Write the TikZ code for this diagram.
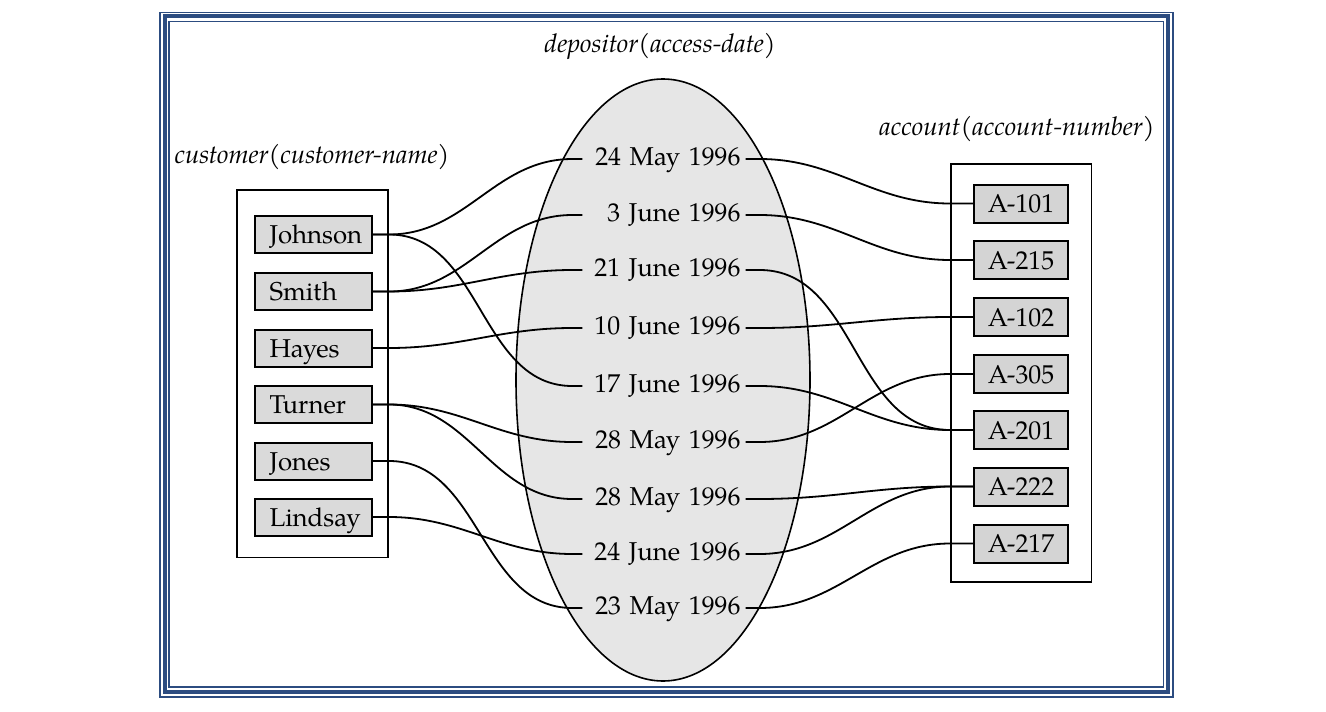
\documentclass[tikz,border=0pt]{standalone}
\usepackage{fontspec}
\setmainfont{TeX Gyre Pagella}
\definecolor{frameblue}{RGB}{44,76,128}
\definecolor{boxgray}{RGB}{218,218,218}
\definecolor{accgray}{RGB}{212,212,212}
\definecolor{ellgray}{RGB}{230,230,230}
\newcommand{\bigtxt}{\fontsize{25.8}{30}\selectfont}
\tikzset{
  cbox/.style={draw, line width=2pt, fill=boxgray, minimum width=117pt, minimum height=37pt,
    text width=88pt, align=left, inner xsep=0pt, inner ysep=0pt,
    text height=18pt, text depth=0pt, font=\bigtxt},
  abox/.style={draw, line width=2pt, fill=accgray, minimum width=94pt, minimum height=38pt,
    inner sep=0pt, text height=18pt, text depth=0pt, font=\bigtxt},
  dnode/.style={text width=153pt, align=right, inner xsep=5pt, inner ysep=0pt,
    text height=18pt, text depth=6pt, font=\bigtxt},
  ttl/.style={font=\bigtxt\itshape, inner sep=0pt},
  outerbox/.style={draw, line width=1.6pt},
  conn/.style={line width=1.8pt, line join=round},
}
\begin{document}
\begin{tikzpicture}[x=1pt,y=-1pt]
\useasboundingbox (0,0) rectangle (1326,712);
% frame
\draw[frameblue, line width=1.7pt] (160,12.5) rectangle (1173,696.7);
\draw[frameblue, line width=4pt] (165,16.3) rectangle (1168,691.5);
\draw[frameblue, line width=1.5pt] (169.2,21.5) rectangle (1163.4,687);

% titles
\node[ttl] (tdep) at (660,46) {depositor(access-date)};
\node[ttl] (tcust) at (312,157) {customer(customer-name)};
\node[ttl] (tacc) at (1017,129) {account(account-number)};

% ellipse
\draw[line width=1.6pt, fill=ellgray] (663,380) ellipse [x radius=147, y radius=301];

% outer boxes
\draw[outerbox] (237,190) rectangle (388,557.5);
\draw[outerbox] (951,164) rectangle (1091.5,582);

% customers
\node[cbox] (johnson) at (313.5,234.5) {Johnson};
\node[cbox] (smith)   at (313.5,291.5) {Smith};
\node[cbox] (hayes)   at (313.5,348)   {Hayes};
\node[cbox] (turner)  at (313.5,404.5) {Turner};
\node[cbox] (jones)   at (313.5,461)   {Jones};
\node[cbox] (lindsay) at (313.5,517)   {Lindsay};

% accounts
\node[abox] (a101) at (1021,203.5) {A-101};
\node[abox] (a215) at (1021,260)   {A-215};
\node[abox] (a102) at (1021,317)   {A-102};
\node[abox] (a305) at (1021,374)   {A-305};
\node[abox] (a201) at (1021,430)   {A-201};
\node[abox] (a222) at (1021,486.5) {A-222};
\node[abox] (a217) at (1021,543.5) {A-217};

% dates
\node[dnode] (d1) at (664,159) {24~May~1996};
\node[dnode] (d2) at (664,215) {3~June~1996};
\node[dnode] (d3) at (664,270) {21~June~1996};
\node[dnode] (d4) at (664,328) {10~June~1996};
\node[dnode] (d5) at (664,386) {17~June~1996};
\node[dnode] (d6) at (664,442) {28~May~1996};
\node[dnode] (d7) at (664,499) {28~May~1996};
\node[dnode] (d8) at (664,554) {24~June~1996};
\node[dnode] (d9) at (664,608) {23~May~1996};

% left connectors
\foreach \c/\d in {johnson/d1, johnson/d5, smith/d2, smith/d3, hayes/d4, turner/d6, turner/d7, jones/d9, lindsay/d8}{
  \draw[conn] (\c.east) -- ++(16,0) to[out=0,in=180] ([xshift=-10pt]\d.west) -- (\d.west);
}
% right connectors
\foreach \d/\a in {d1/a101, d2/a215, d3/a201, d4/a102, d5/a201, d6/a305, d7/a222, d8/a222, d9/a217}{
  \draw[conn] (\d.east) -- ++(14,0) to[out=0,in=180] ([xshift=-23pt]\a.west) -- (\a.west);
}
\end{tikzpicture}
\end{document}
